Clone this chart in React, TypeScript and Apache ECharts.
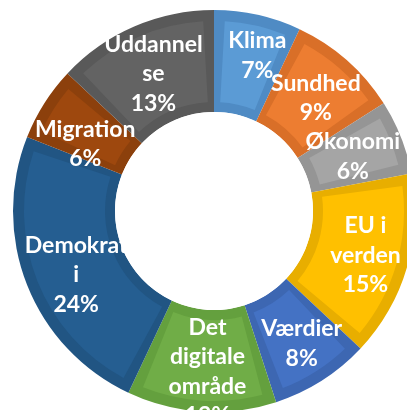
import React, { useEffect, useRef } from "react";
import * as echarts from "echarts";

// Data
const categories = ["Klima", "Sundhed", "Økonomi", "EU i verden", "Værdier", "Det digitale område", "Demokrati", "Migration", "Uddannelse"];
const labelText = ["Klima", "Sundhed", "Økonomi", "EU i\nverden", "Værdier", "Det\ndigitale\nområde", "Demokrat\ni", "Migration", "Uddannel\nse"];
const shares = [7, 9, 6, 15, 8, 12, 24, 6, 13];

// Styles
const baseColors = ["#5B9BD5", "#ED7D31", "#A5A5A5", "#FFC000", "#4472C4", "#70AD47", "#255E91", "#9E480E", "#636363"];
const bandColors = ["#4F8BC4", "#D96F28", "#959595", "#E8AE00", "#3D67B2", "#64A03E", "#215583", "#8C400C", "#595959"];
const labelNudge: number[][] = [[10, -8], [1, 0], [-3, 0], [5, 0], [6, 2], [3, 7], [4, 6], [0, 13], [0, 1]];

export default function App() {
  const ref = useRef<HTMLDivElement>(null);
  useEffect(() => {
    if (!ref.current) return;
    const chart = echarts.init(ref.current, null, { renderer: "svg" });
    const center = [214, 211];
    chart.setOption({
      animation: false,
      series: [
        {
          type: "pie",
          silent: true,
          center,
          radius: [99, 201],
          startAngle: 90,
          clockwise: true,
          label: { show: false },
          labelLine: { show: false },
          data: categories.map((name, i) => ({ name, value: shares[i], itemStyle: { color: bandColors[i] } })),
        },
        {
          type: "pie",
          silent: true,
          center,
          radius: [109, 190],
          padAngle: 6.5,
          startAngle: 90,
          clockwise: true,
          itemStyle: { borderWidth: 0 },
          label: {
            show: true,
            position: "inside",
            formatter: (p: any) => `${labelText[p.dataIndex]}\n${p.value}%`,
            color: "#ffffff",
            fontFamily: "Lato",
            fontWeight: "bold",
            fontSize: 23,
            lineHeight: 29.5,
            align: "center",
          },
          labelLine: { show: false },
          labelLayout: (p: any) => ({ dx: labelNudge[p.dataIndex][0], dy: labelNudge[p.dataIndex][1] }),
          data: categories.map((name, i) => ({ name, value: shares[i], itemStyle: { color: baseColors[i] } })),
        },
      ],
      graphic: [
        {
          type: "circle",
          z: 100,
          silent: true,
          shape: { cx: center[0], cy: center[1], r: 99 },
          style: { fill: "#ffffff" },
        },
      ],
    });
    return () => chart.dispose();
  }, []);
  return <div ref={ref} style={{ position: "fixed", left: 0, top: 0, width: 407, height: 410 }} />;
}
